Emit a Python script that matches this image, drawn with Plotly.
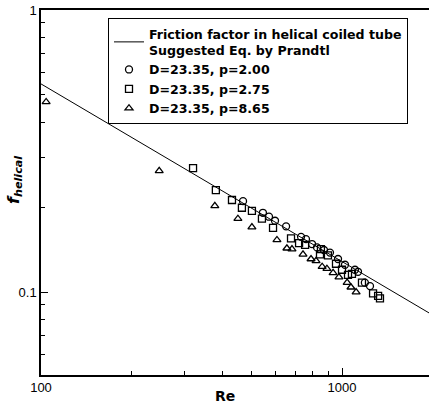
import plotly.graph_objects as go

# Prandtl correlation line
line_re = [100, 2000]
line_f = [0.547, 0.0829]

# D=23.35, p=2.00 (circles)
c_re = [469, 546, 572, 599, 652, 731, 759, 795, 826, 871, 912, 970, 1023, 1104, 1130, 1191, 1239]
c_f = [0.210, 0.191, 0.185, 0.179, 0.171, 0.157, 0.154, 0.148, 0.144, 0.141, 0.138, 0.131, 0.125, 0.120, 0.118, 0.108, 0.105]

# D=23.35, p=2.75 (squares)
s_re = [320, 381, 431, 465, 502, 542, 590, 677, 720, 754, 845, 851, 898, 955, 1000, 1047, 1079, 1165, 1268, 1318, 1337]
s_f = [0.275, 0.230, 0.212, 0.199, 0.194, 0.182, 0.169, 0.155, 0.149, 0.147, 0.136, 0.142, 0.135, 0.126, 0.120, 0.115, 0.116, 0.108, 0.099, 0.097, 0.095]

# D=23.35, p=8.65 (triangles)
t_re = [104, 247, 378, 451, 502, 608, 656, 682, 742, 789, 820, 859, 891, 934, 977, 1040, 1071, 1114]
t_f = [0.472, 0.269, 0.202, 0.182, 0.170, 0.153, 0.143, 0.142, 0.136, 0.131, 0.129, 0.123, 0.121, 0.117, 0.113, 0.108, 0.104, 0.100]

x_ticks = [100, 1000]
x_ticktext = ["100", "1000"]
y_ticks = [0.1, 1]
y_ticktext = ["0.1", "1"]

FONT = "Liberation Sans, Arial, sans-serif"
BFONT = "DejaVu Sans, Arial, sans-serif"

fig = go.Figure()
fig.add_trace(go.Scatter(x=line_re, y=line_f, mode="lines",
                         line=dict(color="black", width=1),
                         name="Friction factor in helical coiled tube<br>Suggested Eq. by Prandtl"))
mk = dict(color="black", size=7, line=dict(color="black", width=1.3))
fig.add_trace(go.Scatter(x=c_re, y=c_f, mode="markers", name="D=23.35, p=2.00",
                         marker=dict(symbol="circle-open", **mk)))
fig.add_trace(go.Scatter(x=s_re, y=s_f, mode="markers", name="D=23.35, p=2.75",
                         marker=dict(symbol="square-open", **mk)))
fig.add_trace(go.Scatter(x=t_re, y=t_f, mode="markers", name="D=23.35, p=8.65",
                         marker=dict(symbol="triangle-up-open", **mk)))

W, H = 429, 406
L, R, T, B = 41, 0, 10, 31
pw, ph = W - L - R, H - T - B

fig.update_layout(
    width=W, height=H,
    margin=dict(l=L, r=R, t=T, b=B),
    paper_bgcolor="white", plot_bgcolor="white",
    font=dict(family=FONT, size=13, color="black"),
    showlegend=True,
    legend=dict(x=(108 - L) / pw, y=(H - B - 18) / ph, xanchor="left", yanchor="top",
                bgcolor="white", bordercolor="black", borderwidth=1,
                font=dict(family=BFONT, size=12.6, color="black", weight="bold"),
                tracegroupgap=0),
    xaxis=dict(type="log", range=[2, 3.289], showgrid=False, zeroline=False,
               showline=True, linecolor="black", linewidth=1.5, mirror=True,
               ticks="inside", ticklen=7, tickwidth=1, tickcolor="black",
               tickvals=x_ticks, ticktext=x_ticktext,
               minor=dict(ticks="inside", ticklen=4, tickwidth=1, tickcolor="black", dtick="D1", showgrid=False)),
    yaxis=dict(type="log", range=[-1.294, 0], showgrid=False, zeroline=False,
               showline=True, linecolor="black", linewidth=1.5, mirror=False,
               ticks="inside", ticklen=7, tickwidth=1, tickcolor="black",
               tickvals=y_ticks, ticktext=y_ticktext,
               minor=dict(ticks="inside", ticklen=4, tickwidth=1, tickcolor="black", dtick="D1", showgrid=False)),
)

fig.add_annotation(text="<b>Re</b>", xref="paper", yref="paper",
                   x=(225 - L) / pw, y=-(396 - (H - B)) / ph, showarrow=False,
                   xanchor="center", yanchor="middle", font=dict(family=BFONT, size=14))
fig.add_annotation(text="<b><i>f</i></b><sub><b><i>helical</i></b></sub>", xref="paper", yref="paper",
                   x=(14 - L) / pw, y=(H - B - 180) / ph, showarrow=False, textangle=-90,
                   xanchor="center", yanchor="middle", font=dict(family=BFONT, size=16))

fig.write_html("out.html")
